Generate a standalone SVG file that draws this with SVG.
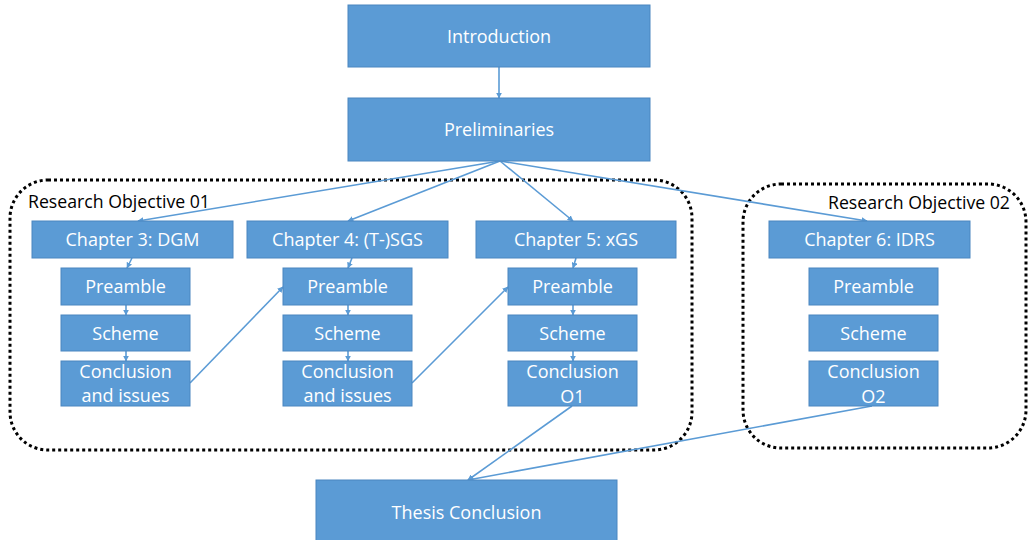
<svg xmlns="http://www.w3.org/2000/svg" width="1028" height="540" viewBox="0 0 1028 540">
  <style>
    .box { fill: #5B9BD5; stroke: #4A86C0; stroke-width: 1; }
    .lbl { fill: #FFFFFF; font-family: "Open Sans", "Liberation Sans", Arial, sans-serif; font-size: 18px; text-anchor: middle; }
    .grp { fill: none; stroke: #000000; stroke-width: 3; stroke-dasharray: 3 3; }
    .grplbl { fill: #000000; font-family: "Open Sans", "Liberation Sans", Arial, sans-serif; font-size: 17.7px; }
    .edge { fill: none; stroke: #5B9BD5; stroke-width: 1.6; marker-end: url(#tip); }
  </style>
  <defs>
    <marker id="tip" viewBox="0 0 10 10" refX="9" refY="5" markerWidth="6" markerHeight="6" orient="auto" markerUnits="userSpaceOnUse">
      <path d="M0,0 L10,5 L0,10 z" fill="#5B9BD5"/>
    </marker>
  </defs>

  <!-- research objective groupings -->
  <g id="objective-01">
    <rect class="grp" x="10" y="180" width="682" height="270" rx="38" ry="38"/>
    <text class="grplbl" x="28" y="208">Research Objective 01</text>
  </g>
  <g id="objective-02">
    <rect class="grp" x="743" y="184" width="283" height="264" rx="38" ry="38"/>
    <text class="grplbl" x="828" y="209">Research Objective 02</text>
  </g>

  <!-- connectors -->
  <g id="connectors">
    <line class="edge" x1="499" y1="67" x2="499" y2="98"/>
    <line class="edge" x1="500" y1="161" x2="138" y2="221"/>
    <line class="edge" x1="500" y1="161" x2="348" y2="221"/>
    <line class="edge" x1="500" y1="161" x2="573" y2="221"/>
    <line class="edge" x1="500" y1="161" x2="867" y2="221"/>

    <line class="edge" x1="132" y1="258" x2="127" y2="268"/>
    <line class="edge" x1="126" y1="305" x2="126" y2="315"/>
    <line class="edge" x1="126" y1="351" x2="126" y2="361"/>

    <line class="edge" x1="352" y1="258" x2="348" y2="268"/>
    <line class="edge" x1="348" y1="305" x2="348" y2="315"/>
    <line class="edge" x1="348" y1="351" x2="348" y2="361"/>

    <line class="edge" x1="576" y1="258" x2="573" y2="268"/>
    <line class="edge" x1="573" y1="305" x2="573" y2="315"/>
    <line class="edge" x1="573" y1="351" x2="573" y2="361"/>

    <line class="edge" x1="190" y1="383" x2="283" y2="287"/>
    <line class="edge" x1="412" y1="383" x2="508" y2="287"/>

    <line class="edge" x1="572" y1="406" x2="468" y2="480"/>
    <line class="edge" x1="872" y1="406" x2="468" y2="480"/>
  </g>

  <g id="introduction">
    <rect class="box" x="348" y="5" width="302" height="62"/>
    <text class="lbl" x="499" y="43">Introduction</text>
  </g>
  <g id="preliminaries">
    <rect class="box" x="348" y="98" width="302" height="63"/>
    <text class="lbl" x="499" y="136">Preliminaries</text>
  </g>

  <!-- chapter 3 -->
  <g id="chapter3">
    <rect class="box" x="32" y="221" width="201" height="37"/>
    <text class="lbl" x="132.5" y="246">Chapter 3: DGM</text>
  </g>
  <g id="ch3-preamble">
    <rect class="box" x="61" y="268" width="129" height="37"/>
    <text class="lbl" x="125.5" y="293">Preamble</text>
  </g>
  <g id="ch3-scheme">
    <rect class="box" x="61" y="315" width="129" height="36"/>
    <text class="lbl" x="125.5" y="340">Scheme</text>
  </g>
  <g id="ch3-conclusion">
    <rect class="box" x="61" y="361" width="129" height="45"/>
    <text class="lbl" x="125.5" y="378">Conclusion</text>
    <text class="lbl" x="125.5" y="402">and issues</text>
  </g>

  <!-- chapter 4 -->
  <g id="chapter4">
    <rect class="box" x="247" y="221" width="201" height="37"/>
    <text class="lbl" x="347.5" y="246">Chapter 4: (T-)SGS</text>
  </g>
  <g id="ch4-preamble">
    <rect class="box" x="283" y="268" width="129" height="37"/>
    <text class="lbl" x="347.5" y="293">Preamble</text>
  </g>
  <g id="ch4-scheme">
    <rect class="box" x="283" y="315" width="129" height="36"/>
    <text class="lbl" x="347.5" y="340">Scheme</text>
  </g>
  <g id="ch4-conclusion">
    <rect class="box" x="283" y="361" width="129" height="45"/>
    <text class="lbl" x="347.5" y="378">Conclusion</text>
    <text class="lbl" x="347.5" y="402">and issues</text>
  </g>

  <!-- chapter 5 -->
  <g id="chapter5">
    <rect class="box" x="476" y="221" width="200" height="37"/>
    <text class="lbl" x="576" y="246">Chapter 5: xGS</text>
  </g>
  <g id="ch5-preamble">
    <rect class="box" x="508" y="268" width="129" height="37"/>
    <text class="lbl" x="572.5" y="293">Preamble</text>
  </g>
  <g id="ch5-scheme">
    <rect class="box" x="508" y="315" width="129" height="36"/>
    <text class="lbl" x="572.5" y="340">Scheme</text>
  </g>
  <g id="ch5-conclusion">
    <rect class="box" x="508" y="361" width="129" height="45"/>
    <text class="lbl" x="572.5" y="378">Conclusion</text>
    <text class="lbl" x="572.5" y="403">O1</text>
  </g>

  <!-- chapter 6 -->
  <g id="chapter6">
    <rect class="box" x="769" y="221" width="201" height="37"/>
    <text class="lbl" x="869.5" y="246">Chapter 6: IDRS</text>
  </g>
  <g id="ch6-preamble">
    <rect class="box" x="809" y="268" width="129" height="37"/>
    <text class="lbl" x="873.5" y="293">Preamble</text>
  </g>
  <g id="ch6-scheme">
    <rect class="box" x="809" y="315" width="129" height="36"/>
    <text class="lbl" x="873.5" y="340">Scheme</text>
  </g>
  <g id="ch6-conclusion">
    <rect class="box" x="809" y="361" width="129" height="45"/>
    <text class="lbl" x="873.5" y="378">Conclusion</text>
    <text class="lbl" x="873.5" y="403">O2</text>
  </g>

  <g id="thesis-conclusion">
    <rect class="box" x="316" y="480" width="301" height="64"/>
    <text class="lbl" x="466.5" y="519">Thesis Conclusion</text>
  </g>
</svg>
